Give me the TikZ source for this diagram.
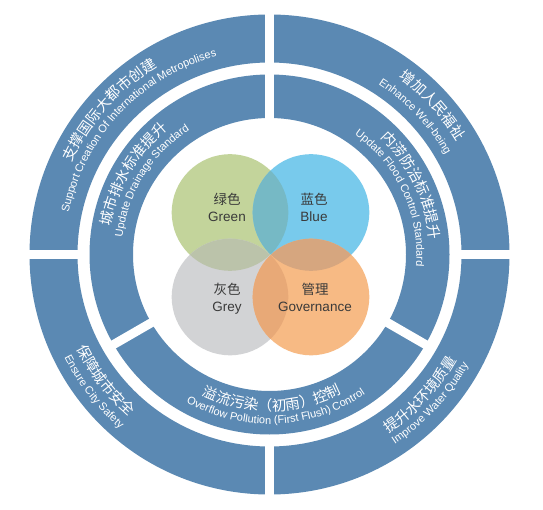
\documentclass[tikz,border=0pt]{standalone}
\usepackage{fontspec}
\setmainfont{Liberation Sans}
\newfontfamily\cnfont{Noto Sans CJK SC}
\newfontfamily\enfont{Liberation Sans}
\usetikzlibrary{decorations.text}
\definecolor{ringblue}{HTML}{5B89B3}
\definecolor{cgreen}{HTML}{C3D49B}
\definecolor{cblue}{HTML}{78CAEC}
\definecolor{cgrey}{HTML}{D2D3D5}
\definecolor{corange}{HTML}{F7BA84}
\definecolor{lensGB}{HTML}{76B9C5}
\definecolor{lensGG}{HTML}{BBC3AA}
\definecolor{lensBO}{HTML}{D6A67F}
\definecolor{lensGO}{HTML}{E8A977}
\definecolor{lbltext}{HTML}{3A3A3A}
\newcommand{\cnw}{\color{white}\cnfont\fontsize{14.5}{15}\selectfont}
\newcommand{\enw}{\color{white}\enfont\fontsize{11}{12}\selectfont}
% clockwise arc text (top half, glyph tops outward)
\newcommand{\arcCW}[3]{%
  \path[decorate, decoration={text along path, text align=center, text={#3}}]
    ({#1+70}:#2pt) arc[start angle={#1+70}, end angle={#1-70}, radius=#2pt];}
% counterclockwise arc text (bottom half, glyph tops inward)
\newcommand{\arcCCW}[3]{%
  \path[decorate, decoration={text along path, text align=center, text={#3}}]
    ({#1-70}:#2pt) arc[start angle={#1-70}, end angle={#1+70}, radius=#2pt];}
\tikzset{
  gapline/.style={white, line width=9pt},
  cnlbl/.style={anchor=base, inner sep=0pt, text=lbltext, font=\cnfont\fontsize{13.5}{14}\selectfont},
  enlbl/.style={anchor=base, inner sep=0pt, text=lbltext, font=\enfont\fontsize{13.5}{14}\selectfont},
}
\begin{document}
\begin{tikzpicture}[x=1pt, y=1pt]
\useasboundingbox (0,0) rectangle (543,509);
\fill[white] (0,0) rectangle (543,509);
\coordinate (O) at (269.5,254.5);
\coordinate (G) at (230,296.5);
\coordinate (B) at (311,296.5);
\coordinate (Y) at (230,212);
\coordinate (R) at (311,212);
\begin{scope}[shift={(O)}]
  % outer ring with four gaps
  \fill[ringblue, even odd rule] (0,0) circle (240pt) (0,0) circle (192pt);
  \draw[gapline] (-250,0) -- (250,0);
  \draw[gapline] (0,-250) -- (0,250);
  % inner ring with three gaps
  \fill[ringblue, even odd rule] (0,0) circle (180pt) (0,0) circle (136.5pt);
  \draw[gapline] (90:128pt) -- (90:186pt);
  \draw[gapline] (210:128pt) -- (210:186pt);
  \draw[gapline] (330:128pt) -- (330:186pt);
  % outer ring texts
  \arcCW{138}{218.5}{|\cnw|支撑国际大都市创建}
  \arcCW{136.6}{205}{|\enw|Support Creation Of International Metropolises}
  \arcCW{42.4}{219}{|\cnw|增加人民福祉}
  \arcCW{43.4}{202}{|\enw|Enhance Well-being}
  \arcCCW{-43}{215}{|\cnw|提升水环境质量}
  \arcCCW{-42.8}{227.5}{|\enw|Improve Water Quality}
  \arcCCW{217.5}{214.5}{|\cnw|保障城市安全}
  \arcCCW{218}{229.5}{|\enw|Ensure City Safety}
  % inner ring texts
  \arcCW{149.5}{161}{|\cnw|城市排水标准提升}
  \arcCW{148}{148}{|\enw|Update Drainage Standard}
  \arcCW{26}{161}{|\cnw|内涝防治标准提升}
  \arcCW{25}{147}{|\enw|Update Flood Control Standard}
  \arcCCW{271}{156.5}{|\cnw|溢流污染（初雨）控制}
  \arcCCW{272.5}{169.5}{|\enw|Overflow Pollution (First Flush) Control}
\end{scope}
% Venn circles
\fill[cgreen] (G) circle (58.3pt);
\fill[cblue] (B) circle (58.3pt);
\fill[cgrey] (Y) circle (58.3pt);
\fill[corange] (R) circle (58.3pt);
\begin{scope}\clip (G) circle (58.3pt); \fill[lensGB] (B) circle (58.3pt); \end{scope}
\begin{scope}\clip (G) circle (58.3pt); \fill[lensGG] (Y) circle (58.3pt); \end{scope}
\begin{scope}\clip (B) circle (58.3pt); \fill[lensBO] (R) circle (58.3pt); \end{scope}
\begin{scope}\clip (Y) circle (58.3pt); \fill[lensGO] (R) circle (58.3pt); \end{scope}
% labels
\node[cnlbl] (gcn) at (227,304) {绿色};
\node[enlbl] (gen) at (227,287.5) {Green};
\node[cnlbl] (bcn) at (314,304) {蓝色};
\node[enlbl] (ben) at (314,287.5) {Blue};
\node[cnlbl] (ycn) at (227,214) {灰色};
\node[enlbl] (yen) at (227,197.2) {Grey};
\node[cnlbl] (rcn) at (315,214) {管理};
\node[enlbl] (ren) at (315,197.2) {Governance};
\end{tikzpicture}
\end{document}
